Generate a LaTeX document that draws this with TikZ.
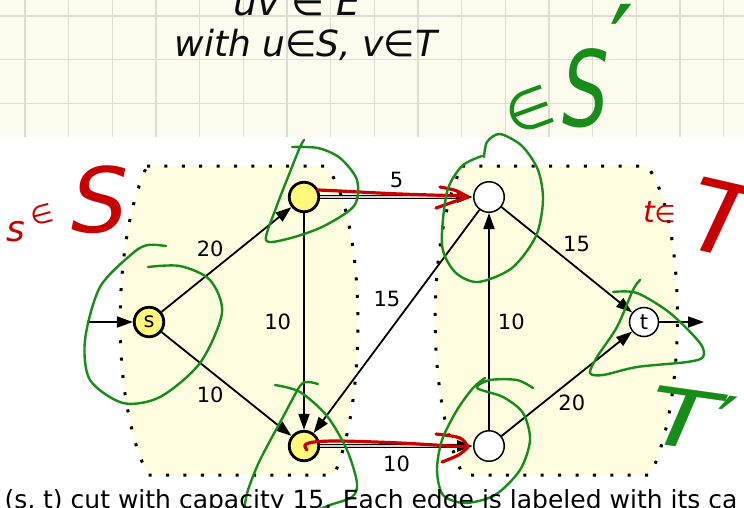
\documentclass[tikz,border=0pt]{standalone}
\usepackage{fontspec}
\setmainfont{DejaVu Sans}
\usetikzlibrary{arrows.meta,positioning}
\definecolor{PaperCream}{RGB}{253,251,238}
\definecolor{GridGray}{RGB}{222,220,208}
\definecolor{SetYellow}{RGB}{254,253,224}
\definecolor{NodeYellow}{RGB}{255,248,122}
\definecolor{PenRed}{RGB}{200,0,0}
\definecolor{PenGreen}{RGB}{24,140,24}
\definecolor{PenBlack}{RGB}{12,12,12}
\newcommand\fsz[1]{\fontsize{#1}{#1}\selectfont}

\begin{document}
\begin{tikzpicture}[x=1pt,y=-1pt,
  snode/.style={circle,draw,line width=2.8pt,fill=NodeYellow,minimum size=29.5pt,inner sep=0pt,font=\fsz{21}},
  tnode/.style={circle,draw,line width=1.5pt,fill=white,minimum size=30.5pt,inner sep=0pt,font=\fsz{21}},
  flow/.style={-{Triangle[length=16pt,width=11pt]},line width=1.8pt},
  cutflow/.style={-{Triangle[length=16pt,width=11pt]},line width=3.4pt},
  lbl/.style={font=\fsz{21},inner sep=2pt},
  setborder/.style={fill=SetYellow,line width=3pt,dash pattern=on 3pt off 14.4pt},
  hand/.style={inner sep=0pt},
  redpen/.style={PenRed,line width=3.2pt,line cap=round,line join=round},
  greenpen/.style={PenGreen,line width=2.4pt,line cap=round,line join=round},
]
\useasboundingbox (0,0) rectangle (744,507);
\clip (0,0) rectangle (744,507);
\fill[white] (0,0) rectangle (744,507);
\fill[PaperCream] (0,0) rectangle (744,137);
\foreach \gx in {0,...,16}
  \draw[GridGray,line width=1.2pt] ({25+43.67*\gx},0) -- ({25+43.67*\gx},137);
\foreach \gy in {16,59.7,103.3}
  \draw[GridGray,line width=1.2pt] (0,\gy) -- (744,\gy);

\node[hand,text=PenBlack,font=\itshape\fsz{38},anchor=base] (noteE) at (297,15) {uv ∈ E};
\node[hand,text=PenBlack,font=\itshape\fsz{36},anchor=base] (noteST) at (306,56) {with u∈S, v∈T};

\draw[setborder] (147,166) -- (326,166) .. controls (366,215) and (368,400) .. (334,475)
  -- (148,475) .. controls (110,400) and (112,240) .. (147,166) -- cycle;
\draw[setborder] (462,166) -- (647,166) .. controls (686,215) and (688,400) .. (650,475)
  -- (463,475) .. controls (426,400) and (426,240) .. (462,166) -- cycle;

\node[snode] (s) at (149,322) {s};
\node[snode] (u1) at (304,197) {};
\node[snode] (u2) at (304,446) {};
\node[tnode] (v1) at (489,197) {};
\node[tnode] (v2) at (489,446) {};
\node[tnode,minimum size=29pt] (t) at (644,322) {t};
\coordinate (src) at (87,322);
\coordinate (snk) at (704,322);

\draw[flow] (src) -- (s);
\draw[flow] (t) -- (snk);
\draw[flow] (s) -- (u1) node[lbl,midway,above left] (c20) {20};
\draw[flow] (s) -- (u2) node[lbl,midway,below left] (c10a) {10};
\draw[flow] (u1) -- (u2) node[lbl,midway,left=10pt] (c10b) {10};
\draw[flow] (v1) -- (u2) node[lbl,pos=.4,left=10pt] (c15a) {15};
\draw[flow] (v2) -- (v1) node[lbl,midway,right=6pt] (c10c) {10};
\draw[flow] (v1) -- (t) node[lbl,pos=.45,above right] (c15b) {15};
\draw[flow] (v2) -- (t) node[lbl,midway,below=8pt,xshift=5pt] (c20b) {20};
\draw[cutflow] (u1) -- (v1) node[lbl,midway,above=6pt] (c5) {5};
\draw[cutflow] (u2) -- (v2) node[lbl,midway,below=6pt] (c10d) {10};
\draw[gray!35,line width=1.2pt,shorten >=17pt] (u1) -- (v1);
\draw[gray!35,line width=1.2pt,shorten >=17pt] (u2) -- (v2);

\node[hand,text=PenRed,font=\itshape\fsz{36}] (rs) at (16,232) {s};
\node[hand,text=PenRed,font=\itshape\fsz{26},rotate=15] (rin) at (42,215) {∈};
\node[hand,text=PenRed,font=\itshape\fsz{90}] (rS) at (100,200) {S};
\node[hand,text=PenRed,font=\itshape\fsz{30}] (rt) at (649,212) {t};
\node[hand,text=PenRed,font=\itshape\fsz{24}] (rin2) at (665,214) {∈};
\node[hand,text=PenRed,font=\itshape\fsz{100},rotate=-13] (rT) at (722,219) {\scalebox{1.1}[1]{T}};
\draw[redpen] plot[smooth] coordinates {(318,190) (340,191) (400,194) (467,196)};
\draw[redpen] (440,187) .. controls (456,190) .. (468,197) .. controls (456,201) .. (436,208);
\draw[redpen] plot[smooth] coordinates {(307,450) (305,445) (314,442) (340,441) (400,443) (467,447)};
\draw[redpen] (436,434) .. controls (462,437) .. (468,447) .. controls (460,455) .. (442,462);

\node[hand,text=PenGreen,font=\itshape\fsz{55},rotate=20] (gin) at (529,110) {∈};
\node[hand,text=PenGreen,font=\itshape\fsz{105}] (gS) at (586,88) {\scalebox{.7}[1]{S}};
\node[hand,text=PenGreen,font=\fsz{110},anchor=north] (gpr) at (622,4) {′};
\node[hand,text=PenGreen,font=\itshape\fsz{80},rotate=-8] (gT) at (692,420) {\scalebox{1.4}[1]{T}′};
\draw[greenpen] plot[smooth] coordinates {(166,246) (148,245) (133,253) (100,287) (85,340) (90,380)
  (123,403) (160,397) (200,363) (222,313) (210,280) (180,266) (148,267)};
\draw[greenpen] plot[smooth] coordinates {(292,147) (318,148) (340,158) (357,180) (354,206) (322,227)
  (287,239) (266,240) (276,208) (290,172) (300,147) (304,140)};
\draw[greenpen] plot[smooth] coordinates {(275,385) (300,392) (327,416) (347,450) (357,483) (352,497)
  (330,505) (312,512)};
\draw[greenpen] plot[smooth] coordinates {(318,384) (308,382) (300,386) (283,417) (260,460) (248,490) (244,510)};
\draw[greenpen] plot[smooth] coordinates {(484,157) (487,142) (500,134) (522,146) (538,170) (543,200)
  (536,236) (512,268) (478,282) (455,272) (442,245) (447,192) (462,166) (482,156)};
\draw[greenpen] plot[smooth] coordinates {(533,388) (517,380) (490,380) (477,388) (503,397) (523,413)
  (530,440) (520,470) (495,495) (465,503) (443,495) (437,470) (442,440) (457,410) (473,388) (485,378)};
\draw[greenpen] plot[smooth] coordinates {(613,292) (637,293) (670,313) (700,343) (703,357) (687,362)
  (637,367) (603,375) (590,373) (597,357) (617,327) (633,290) (640,280)};

\node[anchor=base west,font=\fsz{25}] (caption) at (1,508) {(s, t) cut with capacity 15. Each edge is labeled with its ca};
\end{tikzpicture}
\end{document}
